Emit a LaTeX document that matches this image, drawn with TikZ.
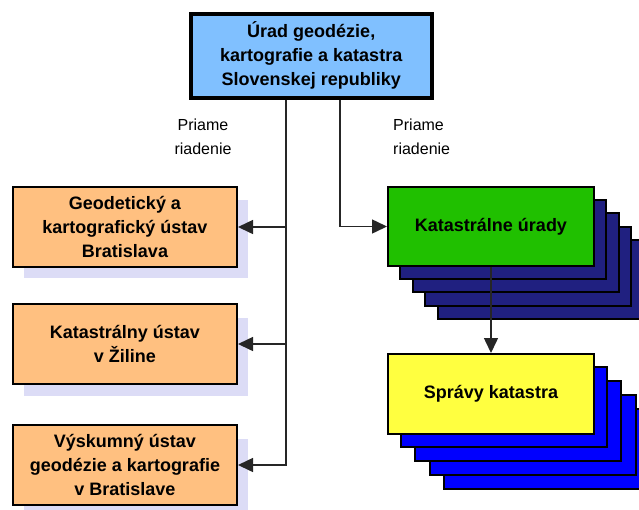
\documentclass[tikz,border=0pt]{standalone}
\usepackage{fontspec}
\setmainfont{Liberation Sans}
\usetikzlibrary{arrows.meta}
\definecolor{topblue}{HTML}{80C0FF}
\definecolor{orangebox}{HTML}{FFC080}
\definecolor{shadowc}{HTML}{DCDCF6}
\definecolor{greenbox}{HTML}{20C000}
\definecolor{navybox}{HTML}{202080}
\definecolor{yellowbox}{HTML}{FFFF40}
\definecolor{bluebox}{HTML}{0000FF}
\tikzset{
  boxbase/.style={draw=black, anchor=north west, align=center, inner sep=0pt,
    font=\fontsize{18}{24}\selectfont\bfseries},
  topbox/.style={boxbase, fill=topblue, line width=3.5pt, minimum width=241pt, minimum height=84pt},
  orbox/.style={boxbase, fill=orangebox, line width=2pt, minimum width=224pt, minimum height=80pt},
  grbox/.style={boxbase, fill=greenbox, line width=2pt, minimum width=206pt, minimum height=79pt},
  yebox/.style={boxbase, fill=yellowbox, line width=2pt, minimum width=206pt, minimum height=80pt},
  stackn/.style={draw=black, line width=2pt, fill=navybox},
  stackb/.style={draw=black, line width=2pt, fill=bluebox},
  shad/.style={fill=shadowc},
  conn/.style={draw=black!85, line width=1.5pt},
  arr/.style={conn, -{Triangle[length=15pt,width=14pt]}},
  lbl/.style={font=\fontsize{16}{24}\selectfont, inner sep=0pt}
}
\begin{document}
\begin{tikzpicture}[x=1pt,y=-1pt]
\path[use as bounding box] (0,0) rectangle (639,509);
\clip (0,0) rectangle (639,509);
% shadows of orange boxes
\fill[shad] (24,200) rectangle (248,278);
\fill[shad] (24,318) rectangle (248,396);
\fill[shad] (24,439) rectangle (248,510);
% stacks behind green
\foreach \i in {4,3,2,1} {
  \draw[stackn] (387+12.75*\i,186+13.5*\i) rectangle ++(206,79);
}
% stacks behind yellow
\foreach \i in {4,3,2,1} {
  \draw[stackb] (387+14.2*\i,353+14*\i) rectangle ++(206,80);
}
% nodes
\node[topbox] (top) at (189,12) {Úrad geodézie,\\kartografie a katastra\\Slovenskej republiky};
\node[orbox] (gku) at (12,186) {Geodetický a\\kartografický ústav\\Bratislava};
\node[orbox] (ku) at (12,303) {Katastrálny ústav\\v Žiline};
\node[orbox] (vu) at (12,424) {Výskumný ústav\\geodézie a kartografie\\v Bratislave};
\node[grbox] (kur) at (387,186) {Katastrálne úrady};
\node[yebox] (sk) at (387,353) {Správy katastra};
% labels
\node[lbl, align=center, anchor=north] (l1) at (203,119) {Priame\\riadenie};
\node[lbl, align=left, anchor=north west] (l2) at (393,119) {Priame\\riadenie};
% connectors
\coordinate (trunk) at (286,0);
\coordinate (rtrunk) at (340,0);
\draw[arr] (top.south -| trunk) |- (gku.east);
\draw[arr] (top.south -| trunk) |- (ku.east);
\draw[arr] (top.south -| trunk) |- (vu.east);
\draw[arr] (top.south -| rtrunk) |- (kur.west);
\draw[arr] (kur.south) -- (sk.north);
\end{tikzpicture}
\end{document}
